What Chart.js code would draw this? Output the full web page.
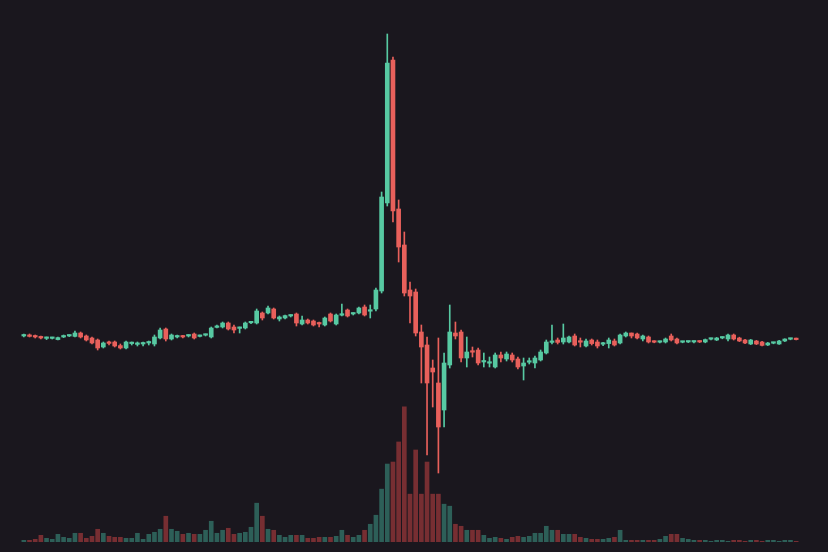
<!DOCTYPE html>
<html>
<head>
<meta charset="utf-8">
<script src="https://cdn.jsdelivr.net/npm/chart.js@4.4.0/dist/chart.umd.min.js"></script>
<style>
    html, body { margin: 0; padding: 0; background: #1a171e; }
    #wrap { width: 828px; height: 552px; }
</style>
</head>
<body>
<div id="wrap"><canvas id="candles" width="828" height="552"></canvas></div>
<script>
// price series, one value per session: open, high, low, close
const opens = [
    108, 108.5, 108.2, 107.8, 106.8, 106.8, 106.2, 107.5, 108, 107.8, 109.5, 108, 107, 106, 102.5, 104.5, 105, 103.2, 102, 104.2, 103.8,
    104, 104.5, 104, 107, 111.5, 106.5, 107.5, 107.6, 108, 109, 107.8, 108.4, 107.5, 112.3, 112.5, 114.5, 112.5, 111.8, 112,
    114.6, 114.5, 119.5, 119.5, 121.5, 116.5, 117, 118, 119, 114, 116, 115.5, 114.1, 113.5, 119, 114, 118.4, 121, 119,
    119.5, 122.5, 120.4, 121.5, 130.5, 174.5, 246, 171.5, 153.5, 131, 130, 110, 103.5, 92, 84.5, 71, 93.5, 109.5, 110, 97,
    100.1, 101, 95, 94.4, 92.5, 98.5, 96.5, 98.5, 96.5, 93, 94.9, 94.5, 96, 99.5, 104.8, 106, 105, 105, 108, 105.1,
    103, 106, 105, 103.9, 104.2, 105.5, 104.5, 108, 109.5, 109, 106.5, 107.5, 105, 104.9, 105, 108, 106.5, 104.9, 105, 105, 105.1,
    105, 106.4, 106, 107, 106.5, 108.5, 107, 106, 104, 105.5, 105, 103.5, 104.4, 104, 105.5, 106.4, 106.6
];
const highs = [
    109, 109, 108.5, 108, 107.5, 107.4, 107.5, 108.5, 108.6, 110.5, 110, 108.5, 107.5, 106.5, 105, 105.5, 105.5, 104, 105.5, 105, 105,
    105, 105.5, 108.5, 112, 112, 109, 108.5, 108.3, 108.6, 109.5, 108.5, 109, 112.5, 113.5, 115, 115, 113.5, 112.5, 115,
    115.2, 121.5, 120, 123, 122, 118, 118.5, 118.6, 119.5, 118, 116.5, 116, 115, 117.5, 119.5, 119, 124, 121.5, 119.6,
    122.5, 123.5, 123.5, 132, 180, 259, 247.5, 176, 160, 135, 131.5, 113.5, 107.5, 96, 107, 99.5, 123.5, 115, 111, 107.5,
    102.5, 102, 99.5, 97.5, 99.5, 100, 100, 99.5, 97.5, 97, 97, 98, 101, 106, 113.5, 107, 114, 108, 109, 107,
    106.5, 106.5, 106, 104.8, 107, 106.5, 109, 110, 109.5, 109.5, 108.5, 108, 105.6, 105.5, 107, 109, 107, 105.4, 105.4, 105.5, 105.6,
    106.5, 107, 107.3, 107.6, 109, 109, 107.4, 106.3, 106.3, 105.8, 105.3, 104.8, 104.9, 105.8, 106.6, 106.9, 107
];
const lows = [
    107.5, 107.5, 107, 106.5, 106.2, 106.5, 106, 107.2, 107.7, 107.5, 107, 105.5, 104, 101, 102, 103.5, 102.5, 101.5, 101.5, 103.5, 103,
    103, 103.5, 103, 106.5, 105.5, 106, 107, 107, 107.5, 106.5, 107.5, 108, 107, 112, 112, 111, 109.5, 109.5, 111.5,
    114.2, 114, 116, 119, 116.5, 115.5, 116.5, 117.5, 113, 113.5, 114, 113, 112.5, 113, 115, 113.5, 118, 117.5, 118.5,
    119, 118, 117, 120.5, 129.5, 173, 165, 145, 128, 114.5, 108, 84.5, 48.5, 72.5, 39.5, 62.5, 92, 106.5, 95, 92.5,
    97.5, 93.5, 92.5, 92.5, 92, 95, 95.5, 95, 91.5, 86, 94, 92, 95.5, 99, 104, 104, 104, 104.5, 103, 102.5,
    102.5, 103.5, 102, 103.2, 102, 103, 104, 107.5, 107, 106.5, 105.5, 104.5, 104.6, 104.5, 104.5, 105.5, 104, 104.6, 104.7, 104.6, 104.7,
    104.6, 106, 105.7, 106.6, 105.5, 106, 105.2, 104.2, 103.7, 103.7, 103, 103.2, 104.1, 103.8, 105.2, 106.1, 106
];
const closes = [
    108.5, 107.8, 107.5, 107, 107, 107, 107.2, 108, 108.2, 109.5, 107.5, 106, 104.5, 102, 104.5, 104.3, 103, 102, 105, 104.5, 104.5,
    104.2, 104.6, 107.5, 111, 106.5, 108.5, 107.7, 107.5, 108.1, 107, 108, 108.6, 112, 112.5, 114.5, 111.5, 111, 112, 114.5,
    114.8, 120.5, 117, 122, 117, 117.5, 118.2, 118.1, 114.5, 116, 114.5, 113.5, 114, 117, 115.5, 118.5, 118.6, 118, 119.1,
    122, 118.5, 120.6, 131, 177.5, 244.5, 170.5, 152.5, 129.5, 128, 109.5, 102.5, 84.5, 90, 62.5, 94.5, 110, 108, 97, 100,
    99.9, 94.5, 95.2, 94.6, 98.5, 97, 99, 96, 92.5, 94.5, 95.1, 97, 100, 105, 105, 104.8, 107, 107.5, 103.5, 104.9,
    105.5, 104.2, 103, 104.1, 106, 103.5, 108.5, 109.5, 108, 107, 108, 105, 104.9, 105.1, 106.5, 106, 104.5, 105, 105.1, 105.1, 105,
    106.2, 106.6, 107, 107.1, 108.5, 106.5, 105.5, 104.5, 106, 104, 103.3, 104.5, 104.6, 105.5, 106.5, 106.6, 106.2
];
const volumes = [
    2, 2, 3, 7, 4, 3, 8, 5, 4, 9, 9, 4, 6, 13, 9, 6, 5, 5, 4, 4, 9,
    3, 8, 10, 13, 26, 13, 11, 8, 9, 8, 8, 12, 21, 9, 12, 14, 8, 9, 10,
    15, 39, 26, 13, 12, 7, 5, 7, 7, 7, 4, 4, 5, 5, 5, 6, 12, 7, 5,
    7, 12, 18, 27, 53, 78, 80, 100, 135, 48, 92, 48, 80, 48, 48, 38, 36, 18, 16, 12,
    12, 12, 7, 4, 5, 4, 3, 5, 6, 5, 6, 9, 9, 16, 12, 12, 8, 8, 8, 5,
    4, 3, 3, 3, 4, 5, 12, 2, 2, 2, 2, 2, 2, 3, 6, 8, 8, 4, 3, 2, 2,
    2, 1, 2, 2, 1, 2, 2, 1, 2, 2, 1, 2, 2, 1, 2, 2, 1
];
const labels = opens.map((_, i) => 'D' + (i + 1));

const UP = '#57c9a2';
const DOWN = '#e8605b';
const UP_VOL = '#2d5f58';
const DOWN_VOL = '#772e32';

const isUp = closes.map((c, i) => c >= opens[i]);
const candleColor = isUp.map(u => u ? UP : DOWN);
const volColor = isUp.map(u => u ? UP_VOL : DOWN_VOL);
const maxVol = Math.max(...volumes);

const config = {
    type: 'bar',
    data: {
        labels: labels,
        datasets: [{
            label: 'Gövde',
            data: opens.map((o, i) => [o, closes[i]]),
            backgroundColor: candleColor,
            barThickness: 4,
            minBarLength: 1.5,
            grouped: false,
            yAxisID: 'y',
            order: 1
        }, {
            label: 'Fitil',
            data: lows.map((l, i) => [l, highs[i]]),
            backgroundColor: candleColor,
            barThickness: 1,
            grouped: false,
            yAxisID: 'y',
            order: 2
        }, {
            label: 'Hacim',
            data: volumes,
            backgroundColor: volColor,
            categoryPercentage: 1,
            barPercentage: 0.82,
            grouped: false,
            yAxisID: 'vol',
            order: 3
        }]
    },
    options: {
        responsive: false,
        animation: false,
        layout: {
            padding: { left: 21, right: 29, top: 0, bottom: 10 }
        },
        plugins: {
            legend: { display: false },
            tooltip: { enabled: false }
        },
        scales: {
            x: { display: false, grid: { display: false } },
            y: { display: false, min: 5, max: 276 },
            vol: { display: false, min: 0, max: maxVol * 4 }
        }
    }
};

const context = document.getElementById('candles').getContext('2d');
const candleChart = new Chart(context, config);
</script>
</body>
</html>
